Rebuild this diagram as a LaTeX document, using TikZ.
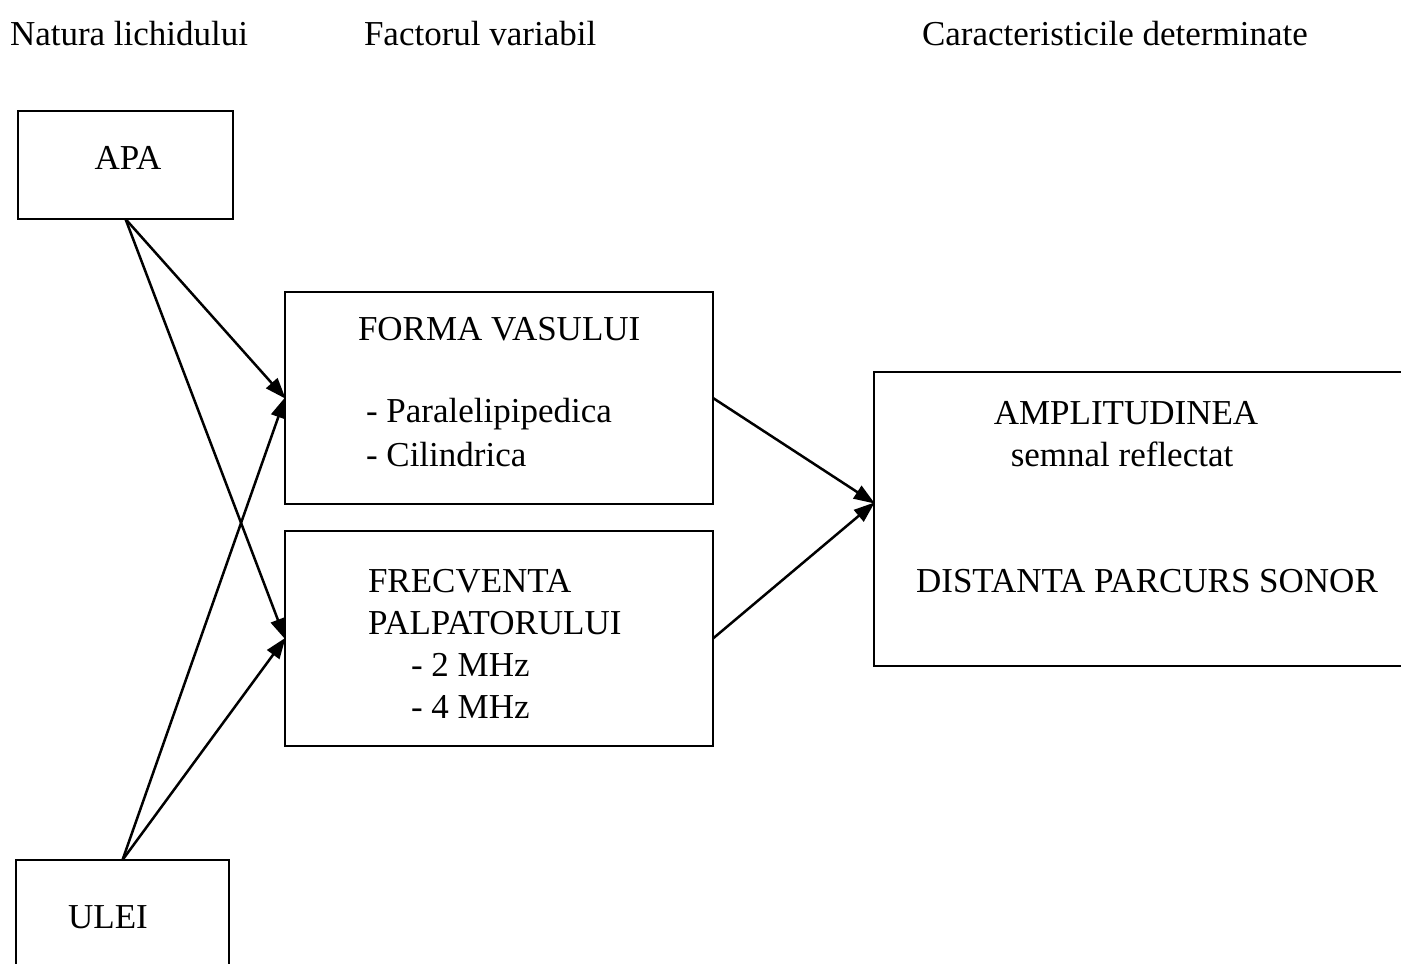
\documentclass[tikz,border=0pt]{standalone}
\usepackage{fontspec}
\setmainfont{Liberation Serif}
\usetikzlibrary{arrows.meta,calc}
\begin{document}
\begin{tikzpicture}[x=1pt,y=-1pt,
  box/.style={draw,line width=2.7pt,inner sep=0pt,outer sep=0pt,minimum width=#1},
  txt/.style={inner sep=0pt,outer sep=0pt,font=\fontsize{35}{42}\selectfont},
  link/.style={line width=2.5pt,-{Triangle[length=21pt,width=15pt]},shorten >=-1pt}]
\useasboundingbox (0,0) rectangle (1401,964);
\clip (0,0) rectangle (1401,964);

% column headings
\node[txt,anchor=base west] (h1) at (10,45) {Natura lichidului};
\node[txt,anchor=base west] (h2) at (364,45) {Factorul variabil};
\node[txt,anchor=base west] (h3) at (922,45) {Caracteristicile determinate};

% liquids
\node[box=215pt,minimum height=108pt] (apa) at (125.5,165) {};
\node[txt,anchor=base] (apat) at (128,169) {APA};
\node[box=213pt,minimum height=108pt] (ulei) at (122.5,914) {};
\node[txt,anchor=base] (uleit) at (108,928) {ULEI};

% variable factors
\node[box=428pt,minimum height=212pt] (forma) at (499,398) {};
\node[txt,anchor=base west] (f1) at (358,340) {FORMA VASULUI};
\node[txt,anchor=base west] (f2) at (366,422) {- Paralelipipedica};
\node[txt,anchor=base west] (f3) at (366,466) {- Cilindrica};

\node[box=428pt,minimum height=215pt] (frecv) at (499,638.5) {};
\node[txt,anchor=base west] (g1) at (368,592) {FRECVENTA};
\node[txt,anchor=base west] (g2) at (368,634) {PALPATORULUI};
\node[txt,anchor=base west] (g3) at (411,676) {- 2 MHz};
\node[txt,anchor=base west] (g4) at (411,718) {- 4 MHz};

% determined characteristics
\node[box=536pt,minimum height=294pt] (res) at (1142,519) {};
\node[txt,anchor=base] (r1) at (1126,424) {AMPLITUDINEA};
\node[txt,anchor=base] (r2) at (1122,466) {semnal reflectat};
\node[txt,anchor=base] (r3) at (1147,592) {DISTANTA PARCURS SONOR};
\coordinate (hub) at ($(res.west)+(0,-16)$);

% connectors
\draw[link] (apa.south) -- (forma.west);
\draw[link] (apa.south) -- (frecv.west);
\draw[link] (ulei.north) -- (forma.west);
\draw[link] (ulei.north) -- (frecv.west);
\draw[link] (forma.east) -- (hub);
\draw[link] (frecv.east) -- (hub);
\end{tikzpicture}
\end{document}
